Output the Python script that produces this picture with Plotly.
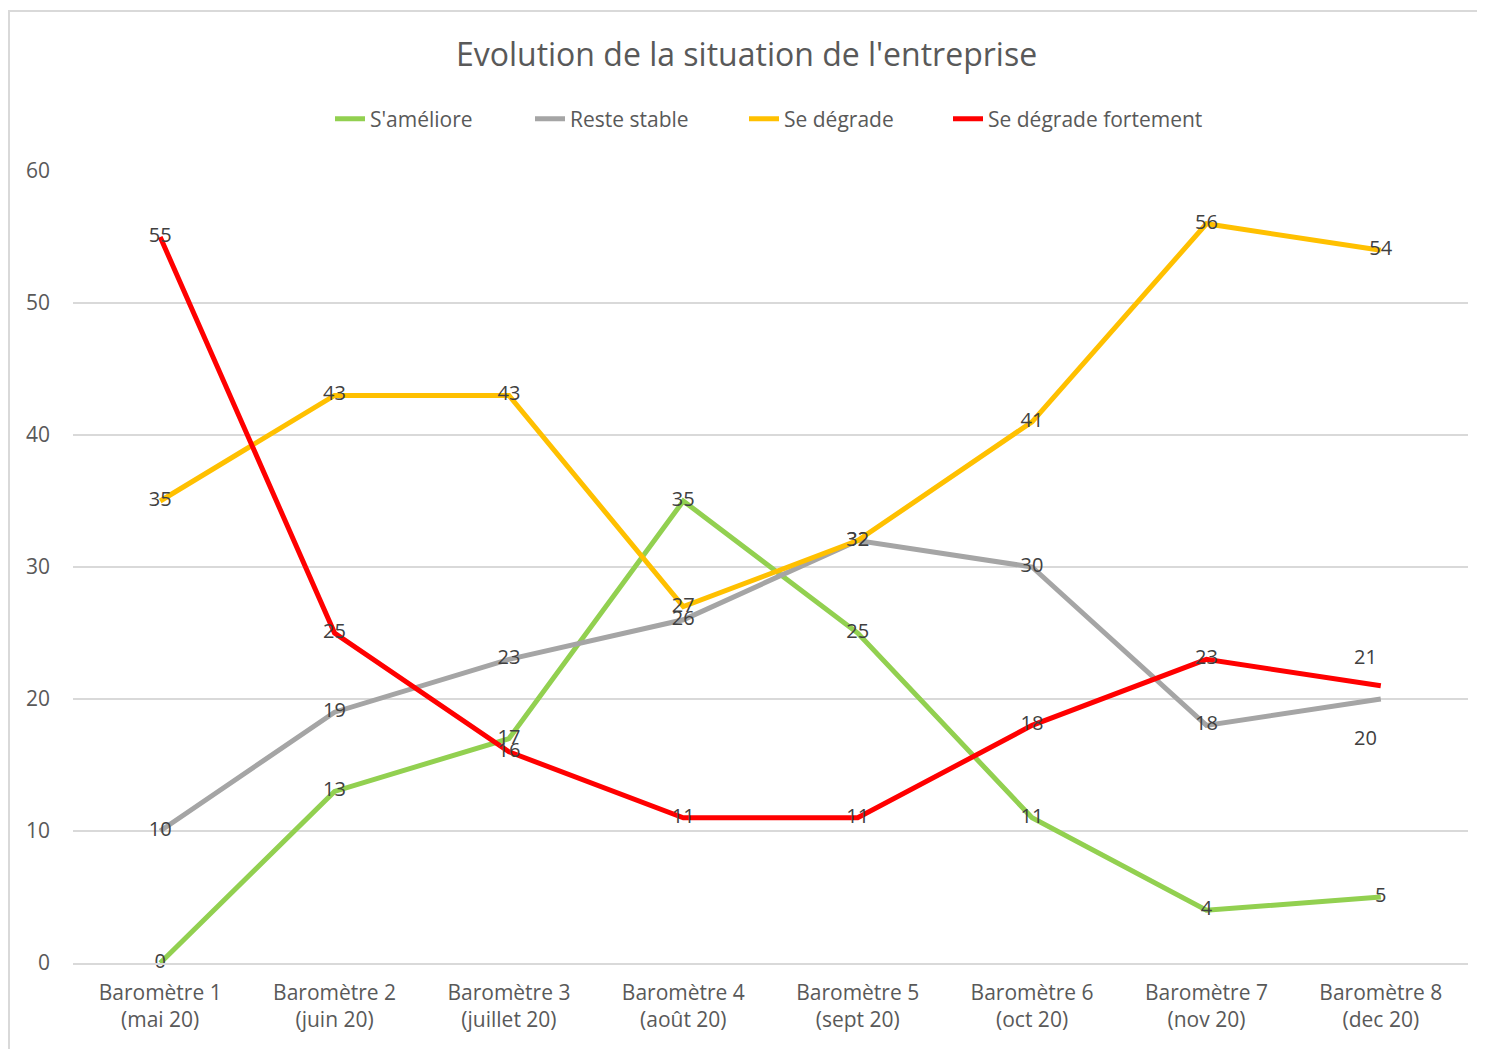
import plotly.graph_objects as go

categories = [
    "Baromètre 1<br>(mai 20)",
    "Baromètre 2<br>(juin 20)",
    "Baromètre 3<br>(juillet 20)",
    "Baromètre 4<br>(août 20)",
    "Baromètre 5<br>(sept 20)",
    "Baromètre 6<br>(oct 20)",
    "Baromètre 7<br>(nov 20)",
    "Baromètre 8<br>(dec 20)",
]
ameliore = [0, 13, 17, 35, 25, 11, 4, 5]
stable = [10, 19, 23, 26, 32, 30, 18, 20]
degrade = [35, 43, 43, 27, 32, 41, 56, 54]
degrade_fort = [55, 25, 16, 11, 11, 18, 23, 21]

FONT = "Open Sans"
TEXT_COLOR = "#404040"
AXIS_COLOR = "#595959"
LABEL_SIZE = 20

# the page puts the figure 8px in from the top-left corner
W, H = 1477, 1041
M_L, M_R, M_T, M_B = 65, 17, 163, 86
PLOT_W = W - M_L - M_R
PLOT_H = H - M_T - M_B

# name, values, colour, offset of the last label, legend id, legend text x (page px)
series = [
    ("S'améliore", ameliore, "#92D050", None, "legend", 370),
    ("Reste stable", stable, "#A5A5A5", -38, "legend2", 570),
    ("Se dégrade", degrade, "#FFC000", None, "legend3", 784),
    ("Se dégrade fortement", degrade_fort, "#FF0000", 29, "legend4", 988),
]

fig = go.Figure()
annotations = []
legends = {}
for name, values, color, end_shift, leg, text_x in series:
    labels = [str(v) for v in values]
    if end_shift is not None:
        labels[-1] = ""
        annotations.append(dict(
            x=categories[-1], y=values[-1], text=str(values[-1]),
            showarrow=False, xshift=-15, yshift=end_shift,
            font=dict(family=FONT, size=LABEL_SIZE, color=TEXT_COLOR),
        ))
    fig.add_trace(go.Scatter(
        x=categories,
        y=values,
        name=name,
        legend=leg,
        mode="lines+text",
        text=labels,
        textposition="middle center",
        textfont=dict(family=FONT, size=LABEL_SIZE, color=TEXT_COLOR),
        line=dict(color=color, width=5),
        cliponaxis=False,
        hoverinfo="skip",
    ))
    legends[leg] = dict(
        orientation="h",
        x=(text_x - 40 - 73) / PLOT_W, xanchor="left",
        y=1 + (171 - 119) / PLOT_H, yanchor="middle",
        font=dict(family=FONT, size=21, color=AXIS_COLOR),
        bgcolor="rgba(0,0,0,0)",
    )

fig.update_layout(
    width=W,
    height=H,
    paper_bgcolor="white",
    plot_bgcolor="white",
    margin=dict(l=M_L, r=M_R, t=M_T, b=M_B),
    title=dict(
        text="Evolution de la situation de l'entreprise",
        x=0.5, xanchor="center",
        y=1 - 47 / H, yanchor="middle",
        font=dict(family=FONT, size=32, color=AXIS_COLOR),
    ),
    showlegend=True,
    annotations=annotations,
    shapes=[dict(
        type="rect", xref="paper", yref="paper",
        x0=(9 - 73) / PLOT_W, x1=1.1, y0=-0.2, y1=(963 - 11) / PLOT_H,
        line=dict(color="#D9D9D9", width=2), layer="below",
    )],
    **legends,
)
fig.update_xaxes(
    range=[-0.5, 7.5],
    showgrid=False,
    showline=True, linecolor="#D9D9D9", linewidth=1.5,
    tickfont=dict(family=FONT, size=21, color=AXIS_COLOR),
    ticks="",
    ticklabelstandoff=10,
)
fig.update_yaxes(
    range=[0, 60],
    dtick=10,
    showgrid=True, gridcolor="#D9D9D9", gridwidth=1.5,
    zeroline=False,
    showline=False,
    ticks="",
    ticklabelstandoff=22,
    tickfont=dict(family=FONT, size=21, color=AXIS_COLOR),
)

fig.write_html("out.html")
